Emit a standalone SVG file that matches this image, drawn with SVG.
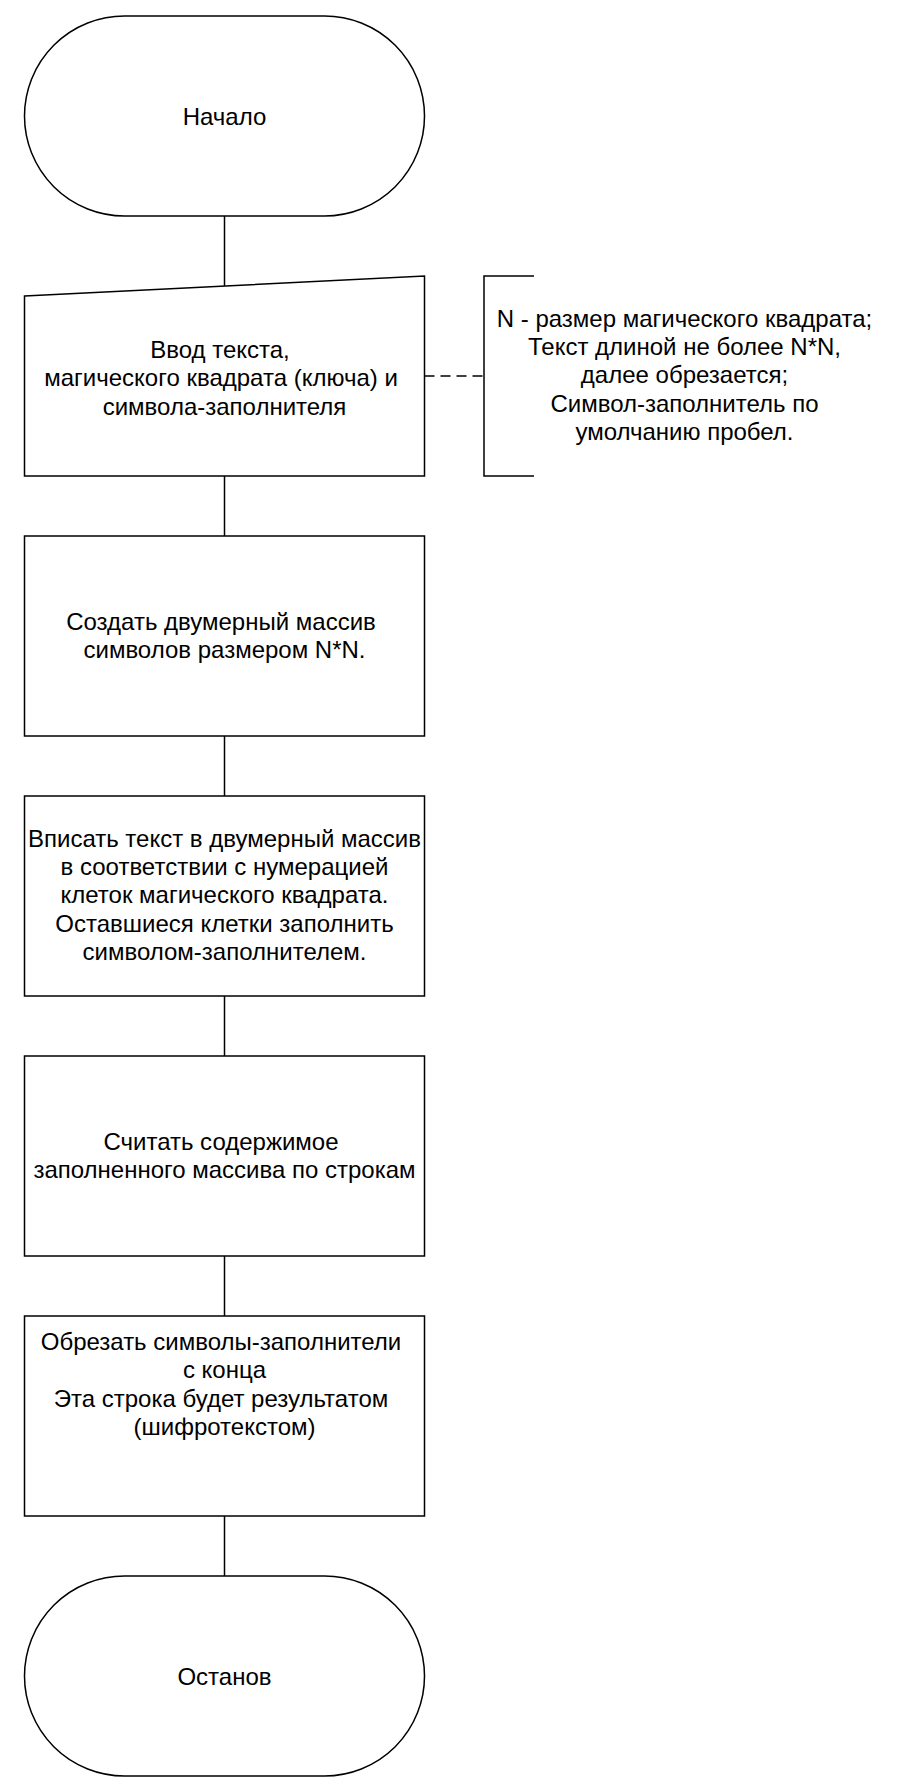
<svg xmlns="http://www.w3.org/2000/svg" width="900" height="1792" viewBox="0 0 900 1792">
  <style>
    .shape { fill: #ffffff; stroke: #000000; stroke-width: 1.5; }
    .edge { fill: none; stroke: #000000; stroke-width: 1.5; }
    .dash { stroke-dasharray: 10 6; }
    text { font-family: "Liberation Sans", Arial, sans-serif; font-size: 24px; fill: #000000; text-anchor: middle; }
  </style>
  <rect width="900" height="1792" fill="#ffffff"/>
  <g id="connectors">
    <line class="edge" x1="224.5" y1="216" x2="224.5" y2="286"/>
    <line class="edge" x1="224.5" y1="476" x2="224.5" y2="536"/>
    <line class="edge" x1="224.5" y1="736" x2="224.5" y2="796"/>
    <line class="edge" x1="224.5" y1="996" x2="224.5" y2="1056"/>
    <line class="edge" x1="224.5" y1="1256" x2="224.5" y2="1316"/>
    <line class="edge" x1="224.5" y1="1516" x2="224.5" y2="1576"/>
    <line class="edge dash" x1="424.5" y1="376" x2="484" y2="376"/>
  </g>
  <g id="start">
    <rect class="shape" x="24.5" y="16" width="400" height="200" rx="100" ry="100"/>
    <text x="224.5" y="125">Начало</text>
  </g>
  <g id="input">
    <path class="shape" d="M24.5,296 L424.5,276 L424.5,476 L24.5,476 Z"/>
    <text x="220" y="358">Ввод текста,</text>
    <text x="221" y="386.3">магического квадрата (ключа) и</text>
    <text x="224.5" y="414.6">символа-заполнителя</text>
  </g>
  <g id="note">
    <path class="edge" d="M534,276 L484,276 L484,476 L534,476"/>
    <text x="684.5" y="326.7">N - размер магического квадрата;</text>
    <text x="684.5" y="355">Текст длиной не более N*N,</text>
    <text x="684.5" y="383.3">далее обрезается;</text>
    <text x="684.5" y="411.6">Символ-заполнитель по</text>
    <text x="684.5" y="439.9">умолчанию пробел.</text>
  </g>
  <g id="create">
    <rect class="shape" x="24.5" y="536" width="400" height="200"/>
    <text x="221" y="630">Создать двумерный массив</text>
    <text x="224.5" y="658.3">символов размером N*N.</text>
  </g>
  <g id="fill">
    <rect class="shape" x="24.5" y="796" width="400" height="200"/>
    <text x="224.5" y="846.7">Вписать текст в двумерный массив</text>
    <text x="224.5" y="875">в соответствии с нумерацией</text>
    <text x="224.5" y="903.3">клеток магического квадрата.</text>
    <text x="224.5" y="931.6">Оставшиеся клетки заполнить</text>
    <text x="224.5" y="959.9">символом-заполнителем.</text>
  </g>
  <g id="read">
    <rect class="shape" x="24.5" y="1056" width="400" height="200"/>
    <text x="221" y="1150">Считать содержимое</text>
    <text x="224.5" y="1178.3">заполненного массива по строкам</text>
  </g>
  <g id="trim">
    <rect class="shape" x="24.5" y="1316" width="400" height="200"/>
    <text x="221" y="1350">Обрезать символы-заполнители</text>
    <text x="224.5" y="1378.3">с конца</text>
    <text x="221" y="1406.6">Эта строка будет результатом</text>
    <text x="224.5" y="1434.9">(шифротекстом)</text>
  </g>
  <g id="stop">
    <rect class="shape" x="24.5" y="1576" width="400" height="200" rx="100" ry="100"/>
    <text x="224.5" y="1685">Останов</text>
  </g>
</svg>
